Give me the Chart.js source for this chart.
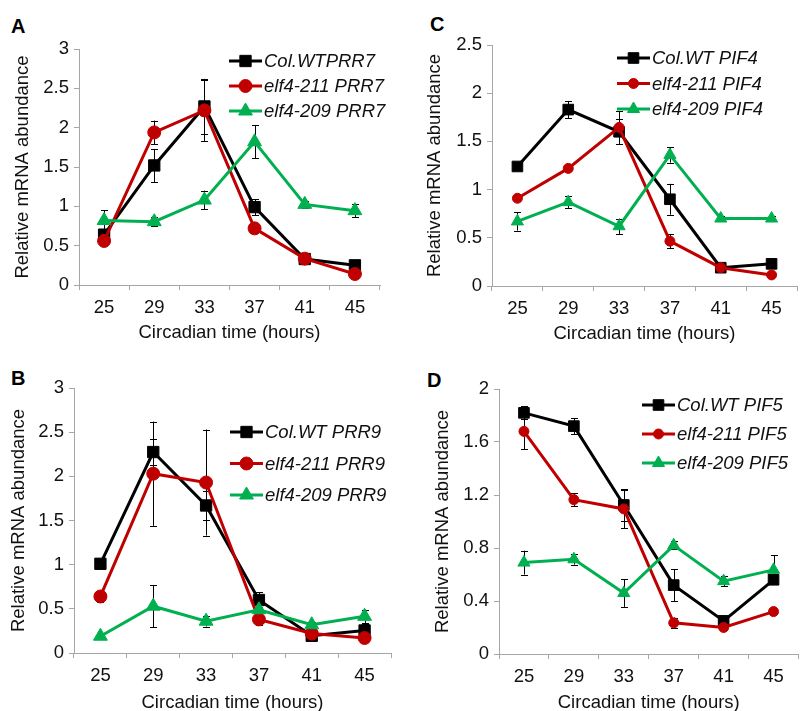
<!DOCTYPE html>
<html><head><meta charset="utf-8">
<script src="https://cdn.jsdelivr.net/npm/chart.js@4/dist/chart.umd.min.js"></script>
<style>
html,body{margin:0;padding:0;background:#fff;width:807px;height:711px;overflow:hidden;position:relative;font-family:'Liberation Sans',Arial,sans-serif;}
canvas{position:absolute;}
.lbl{position:absolute;font-weight:bold;font-size:20px;color:#000;line-height:20px;}
</style></head><body>
<div class="lbl" style="left:11px;top:16px">A</div>
<div class="lbl" style="left:430px;top:14px">C</div>
<div class="lbl" style="left:11px;top:368px">B</div>
<div class="lbl" style="left:427px;top:370px">D</div>
<canvas id="cA" width="400" height="355" style="left:0;top:0"></canvas>
<canvas id="cC" width="407" height="355" style="left:400px;top:0"></canvas>
<canvas id="cB" width="400" height="370" style="left:0;top:355px"></canvas>
<canvas id="cD" width="407" height="370" style="left:400px;top:355px"></canvas>
<script>
// ---- data ----
const hours = ["25", "29", "33", "37", "41", "45"];

// Panel A: PRR7
const prr7Labels = ["Col.WTPRR7", "elf4-211 PRR7", "elf4-209 PRR7"];
const prr7Col = [0.64, 1.52, 2.27, 0.99, 0.33, 0.25];
const prr7ColErr = [0.05, 0.21, 0.35, 0.10, 0.03, 0.03];
const prr7E211 = [0.56, 1.94, 2.22, 0.72, 0.335, 0.14];
const prr7E211Err = [0.03, 0.15, 0.39, 0.03, 0.03, 0.02];
const prr7E209 = [0.82, 0.805, 1.08, 1.82, 1.025, 0.945];
const prr7E209Err = [0.13, 0.06, 0.12, 0.21, 0.04, 0.08];
const prr7Ticks = ["0", "0.5", "1", "1.5", "2", "2.5", "3"];
const prr7TickVals = [0, 0.5, 1, 1.5, 2, 2.5, 3];

// Panel B: PRR9
const prr9Labels = ["Col.WT PRR9", "elf4-211 PRR9", "elf4-209 PRR9"];
const prr9Col = [1.01, 2.275, 1.67, 0.60, 0.195, 0.255];
const prr9ColErr = [0.03, 0.15, 0.16, 0.09, 0.03, 0.07];
const prr9E211 = [0.64, 2.03, 1.93, 0.38, 0.22, 0.17];
const prr9E211Err = [0.06, 0.59, 0.60, 0.06, 0.03, 0.03];
const prr9E209 = [0.19, 0.53, 0.36, 0.49, 0.32, 0.415];
const prr9E209Err = [0.03, 0.24, 0.06, 0.03, 0.03, 0.075];
const prr9Ticks = ["0", "0.5", "1", "1.5", "2", "2.5", "3"];
const prr9TickVals = [0, 0.5, 1, 1.5, 2, 2.5, 3];

// Panel C: PIF4
const pif4Labels = ["Col.WT PIF4", "elf4-211 PIF4", "elf4-209 PIF4"];
const pif4Col = [1.24, 1.83, 1.60, 0.90, 0.19, 0.23];
const pif4ColErr = [0.02, 0.09, 0.13, 0.16, 0.03, 0.03];
const pif4E211 = [0.91, 1.22, 1.645, 0.465, 0.19, 0.115];
const pif4E211Err = [0.02, 0.03, 0.17, 0.075, 0.02, 0.02];
const pif4E209 = [0.67, 0.87, 0.62, 1.36, 0.70, 0.70];
const pif4E209Err = [0.095, 0.06, 0.08, 0.08, 0.03, 0.03];
const pif4Ticks = ["0", "0.5", "1", "1.5", "2", "2.5"];
const pif4TickVals = [0, 0.5, 1, 1.5, 2, 2.5];

// Panel D: PIF5
const pif5Labels = ["Col.WT PIF5", "elf4-211 PIF5", "elf4-209 PIF5"];
const pif5Col = [1.82, 1.72, 1.125, 0.52, 0.25, 0.56];
const pif5ColErr = [0.05, 0.06, 0.12, 0.12, 0.03, 0.03];
const pif5E211 = [1.68, 1.165, 1.095, 0.235, 0.20, 0.32];
const pif5E211Err = [0.135, 0.05, 0.145, 0.04, 0.02, 0.02];
const pif5E209 = [0.69, 0.715, 0.46, 0.82, 0.55, 0.635];
const pif5E209Err = [0.09, 0.04, 0.105, 0.03, 0.04, 0.11];
const pif5Ticks = ["0", "0.4", "0.8", "1.2", "1.6", "2"];
const pif5TickVals = [0, 0.4, 0.8, 1.2, 1.6, 2];

// ---- styling ----
const FONT = "'Liberation Sans', Arial, sans-serif";
const FS = 18.5;
const BLACK = '#000000', RED = '#c00000', GREEN = '#00b050';
const AXIS = '#a6a6a6';
Chart.defaults.font.family = FONT;
Chart.defaults.color = '#111';

function marker(ctx, style, r, x, y, color) {
  ctx.save();
  ctx.fillStyle = color; ctx.strokeStyle = color; ctx.lineWidth = 1;
  ctx.beginPath();
  if (style === 'rect') {
    const s = Math.SQRT1_2 * r;
    ctx.rect(x - s, y - s, 2 * s, 2 * s);
  } else if (style === 'circle') {
    ctx.arc(x, y, r, 0, Math.PI * 2);
  } else {
    const a = Math.PI / 3 * 2;
    ctx.moveTo(x, y - r);
    ctx.lineTo(x + Math.sin(a) * r, y - Math.cos(a) * r);
    ctx.lineTo(x - Math.sin(a) * r, y - Math.cos(a) * r);
    ctx.closePath();
  }
  ctx.fill(); ctx.stroke();
  ctx.restore();
}

const errorBars = {
  id: 'errorBars',
  beforeDatasetsDraw(chart) {
    const ctx = chart.ctx, ys = chart.scales.y;
    chart.data.datasets.forEach((ds, i) => {
      if (!ds.errors) return;
      const meta = chart.getDatasetMeta(i);
      ctx.save();
      ctx.strokeStyle = '#000'; ctx.lineWidth = 1;
      meta.data.forEach((pt, j) => {
        const e = ds.errors[j]; if (!e) return;
        const v = ds.data[j];
        const yt = ys.getPixelForValue(v + e), yb = ys.getPixelForValue(v - e);
        const x = Math.round(pt.x) + 0.5;
        ctx.beginPath();
        ctx.moveTo(x, yt); ctx.lineTo(x, yb);
        ctx.moveTo(x - 3.5, Math.round(yt) + 0.5); ctx.lineTo(x + 3.5, Math.round(yt) + 0.5);
        ctx.moveTo(x - 3.5, Math.round(yb) + 0.5); ctx.lineTo(x + 3.5, Math.round(yb) + 0.5);
        ctx.stroke();
      });
      ctx.restore();
    });
  }
};

const customLegend = {
  id: 'customLegend',
  afterDraw(chart, args, opts) {
    const ctx = chart.ctx;
    chart.data.datasets.forEach((ds, i) => {
      const y = opts.y0 + i * opts.dy;
      const x0 = opts.x0, x1 = opts.x0 + 33;
      ctx.save();
      ctx.strokeStyle = ds.borderColor; ctx.lineWidth = 3;
      ctx.beginPath(); ctx.moveTo(x0, y); ctx.lineTo(x1, y); ctx.stroke();
      ctx.restore();
      marker(ctx, ds.pointStyle, ds.pointRadius, (x0 + x1) / 2, y, ds.borderColor);
      ctx.save();
      ctx.fillStyle = '#111';
      ctx.font = 'italic ' + FS + 'px ' + FONT;
      ctx.textBaseline = 'middle';
      ctx.textAlign = 'left';
      ctx.fillText(ds.label, x1 + 2, y + 1);
      ctx.restore();
    });
  }
};

function makeChart(id, p) {
  const mk = (label, data, errors, color, style, r, order) => ({
    label, data, errors, borderColor: color, backgroundColor: color,
    pointBackgroundColor: color, pointBorderColor: color, pointStyle: style,
    pointRadius: r, pointBorderWidth: 1, borderWidth: 3, tension: 0, order
  });
  new Chart(document.getElementById(id), {
    type: 'line',
    data: {
      labels: hours,
      datasets: [
        mk(p.labels[0], p.col, p.colErr, BLACK, 'rect', p.rSq, 2),
        mk(p.labels[1], p.e211, p.e211Err, RED, 'circle', p.rCi, 1),
        mk(p.labels[2], p.e209, p.e209Err, GREEN, 'triangle', p.rTr, 0)
      ]
    },
    plugins: [errorBars, customLegend],
    options: {
      responsive: false, animation: false, devicePixelRatio: 1,
      layout: { padding: p.pad },
      plugins: {
        legend: { display: false }, tooltip: { enabled: false },
        customLegend: p.legend
      },
      scales: {
        x: {
          type: 'category', offset: true,
          grid: { offset: true, drawOnChartArea: false, drawTicks: true, tickLength: 5, color: AXIS, lineWidth: 1 },
          border: { color: AXIS, width: 1 },
          ticks: { font: { size: FS }, color: '#111', padding: 7, maxRotation: 0 },
          title: { display: true, text: 'Circadian time (hours)', font: { size: FS }, color: '#111', padding: { top: 4, bottom: 3 } },
          afterFit: s => { s.height = p.xh; }
        },
        y: {
          min: 0, max: p.tickVals[p.tickVals.length - 1],
          afterBuildTicks: s => { s.ticks = p.tickVals.map(v => ({ value: v })); },
          grid: { drawOnChartArea: false, drawTicks: true, tickLength: 5, color: AXIS },
          border: { color: AXIS, width: 1 },
          ticks: { font: { size: FS }, color: '#111', padding: 5,
                   callback: (v, i) => p.ticks[i] },
          title: { display: true, text: 'Relative mRNA abundance', font: { size: FS }, color: '#111', padding: { top: p.ytp, bottom: 0 } },
          afterFit: s => { s.width = p.yw; }
        }
      }
    }
  });
}

makeChart('cA', {
  labels: prr7Labels, col: prr7Col, colErr: prr7ColErr, e211: prr7E211, e211Err: prr7E211Err,
  e209: prr7E209, e209Err: prr7E209Err, ticks: prr7Ticks, tickVals: prr7TickVals,
  rSq: 8, rCi: 6.5, rTr: 8,
  pad: { left: 0, top: 49, right: 20, bottom: 8 }, xh: 62, yw: 79, ytp: 12,
  legend: { x0: 229, y0: 61, dy: 25 }
});
makeChart('cC', {
  labels: pif4Labels, col: pif4Col, colErr: pif4ColErr, e211: pif4E211, e211Err: pif4E211Err,
  e209: pif4E209, e209Err: pif4E209Err, ticks: pif4Ticks, tickVals: pif4TickVals,
  rSq: 7.5, rCi: 5, rTr: 7,
  pad: { left: 0, top: 45, right: 10, bottom: 7 }, xh: 62, yw: 92, ytp: 24,
  legend: { x0: 217, y0: 58, dy: 25.5 }
});
makeChart('cB', {
  labels: prr9Labels, col: prr9Col, colErr: prr9ColErr, e211: prr9E211, e211Err: prr9E211Err,
  e209: prr9E209, e209Err: prr9E209Err, ticks: prr9Ticks, tickVals: prr9TickVals,
  rSq: 8, rCi: 6.5, rTr: 8,
  pad: { left: 0, top: 33, right: 7, bottom: 8 }, xh: 64, yw: 74, ytp: 8,
  legend: { x0: 230, y0: 77, dy: 31.5 }
});
makeChart('cD', {
  labels: pif5Labels, col: pif5Col, colErr: pif5ColErr, e211: pif5E211, e211Err: pif5E211Err,
  e209: pif5E209, e209Err: pif5E209Err, ticks: pif5Ticks, tickVals: pif5TickVals,
  rSq: 7.5, rCi: 5, rTr: 7,
  pad: { left: 0, top: 34, right: 0, bottom: 8 }, xh: 63, yw: 99, ytp: 32,
  legend: { x0: 242, y0: 50, dy: 29 }
});
</script>
</body></html>
